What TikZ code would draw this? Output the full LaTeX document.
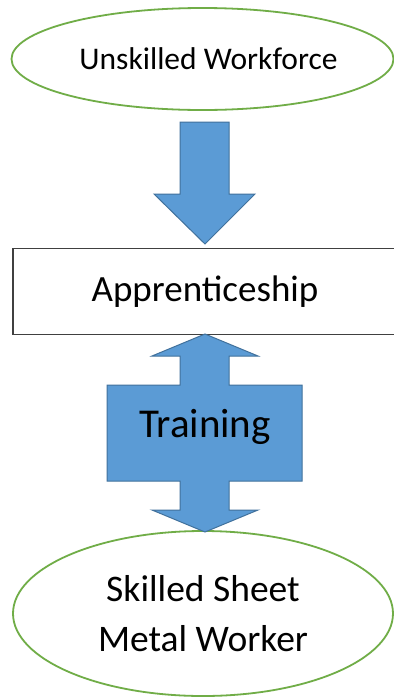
\documentclass[tikz,border=0pt]{standalone}
\usepackage{fontspec}
\setmainfont{Carlito}
\usetikzlibrary{shapes.geometric}

\definecolor{ovalgreen}{HTML}{70AD47}
\definecolor{arrowblue}{HTML}{5B9BD5}
\definecolor{arrowedge}{HTML}{41719C}
\definecolor{boxgray}{HTML}{404040}

\tikzset{
  oval/.style={ellipse,draw=ovalgreen,line width=1.8pt,inner sep=0pt,align=center},
  blockarrow/.style={fill=arrowblue,draw=arrowedge,line width=1pt,line join=miter}
}

\begin{document}
\begin{tikzpicture}[x=1pt,y=-1pt]
            \useasboundingbox (0,0) rectangle (394,697);
            \clip (0,0) rectangle (394,697);
            \fill[white] (0,0) rectangle (394,697);

            \node[oval,minimum width=381pt,minimum height=102pt,font=\fontsize{31.5}{38}\selectfont] (workforce) at (202.5,59)
                {\hspace*{12pt}Unskilled Workforce};
            \node[draw=boxgray,line width=1.4pt,minimum width=384pt,minimum height=86pt,inner sep=0pt,font=\fontsize{37}{44}\selectfont] (apprentice) at (205,291.5)
                {Apprenticeship};
            \node[oval,minimum width=380pt,minimum height=165pt,font=\fontsize{37.5}{50}\selectfont] (skilled) at (203,613.5)
                {Skilled Sheet\\Metal Worker};

            \draw[blockarrow] (180,122) -- (229,122) -- (229,194) -- (255,194) -- (205,244)
                -- (154,194) -- (180,194) -- cycle;

            \draw[blockarrow] (205,334) -- (258,356) -- (229,356) -- (229,385) -- (302,385)
                -- (302,481) -- (229,481) -- (229,510) -- (258,510) -- (205,532) -- (152,510)
                -- (180,510) -- (180,481) -- (107,481) -- (107,385) -- (180,385) -- (180,356)
                -- (152,356) -- cycle;
            \node[font=\fontsize{41}{48}\selectfont] (training) at (205,427) {Training};
\end{tikzpicture}
\end{document}
